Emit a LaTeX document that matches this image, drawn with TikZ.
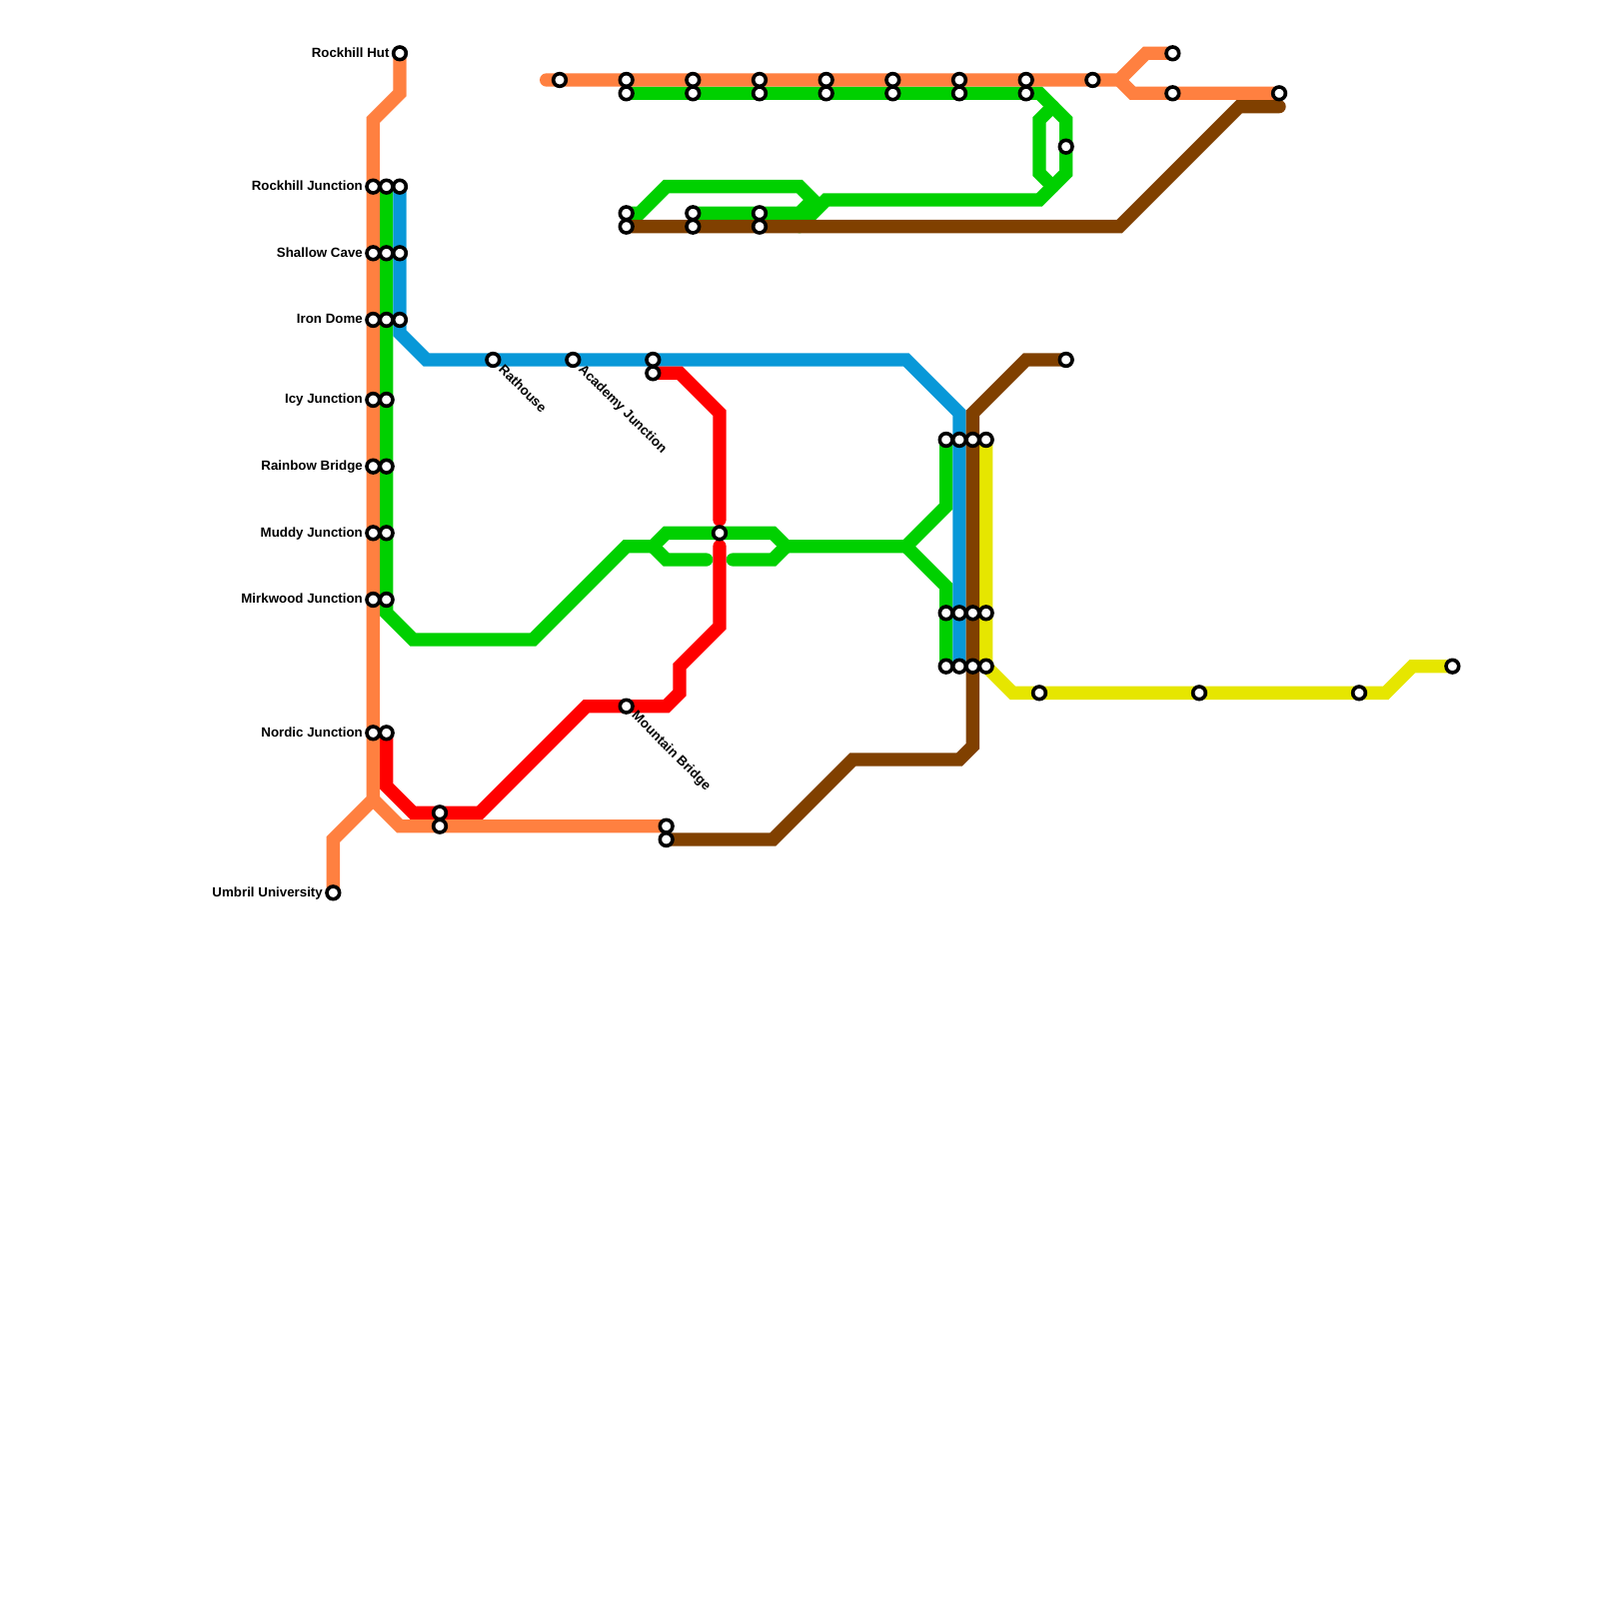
\documentclass[tikz,border=0pt]{standalone}
\usepackage{fontspec}
\setmainfont{Liberation Sans}
\usepackage{xcolor}
\usepackage{tikz}
\usetikzlibrary{calc,positioning,backgrounds}
\definecolor{lineorange}{HTML}{FF8040}
\definecolor{linegreen}{HTML}{00D000}
\definecolor{lineblue}{HTML}{0898D8}
\definecolor{linered}{HTML}{FF0000}
\definecolor{linebrown}{HTML}{804000}
\definecolor{lineyellow}{HTML}{E6E600}

\begin{document}
\begin{tikzpicture}[
      x=2mm, y=-2mm,
      metro/.style={line width=2mm, line cap=round, line join=miter},
      stn/.style={circle, draw=black, fill=white, line width=0.054cm, minimum size=0.19cm, inner sep=0pt},
      lbl/.style={font=\fontsize{5.69}{6.5}\selectfont\bfseries, inner sep=0pt, text=black, text height=4.4pt, text depth=1.2pt},
      slant/.style={lbl, rotate=-45, anchor=west},
    ]
    \useasboundingbox (0,0) rectangle (120,120);

    % stations
    \foreach \y in {14,19,24,30,35,40,45,55} {
      \node[stn] (s28-\y) at (28,\y) {};
      \node[stn] (s29-\y) at (29,\y) {};
    }
    \foreach \y in {14,19,24} \node[stn] (s30-\y) at (30,\y) {};
    \foreach \x in {71,72,73,74} {
      \node[stn] (s\x-33) at (\x,33) {};
      \node[stn] (s\x-46) at (\x,46) {};
      \node[stn] (s\x-50) at (\x,50) {};
    }
    \foreach \x in {47,52,57,62,67,72,77} {
      \node[stn] (s\x-6) at (\x,6) {};
      \node[stn] (s\x-7) at (\x,7) {};
    }
    \foreach \x in {47,52,57} {
      \node[stn] (s\x-16) at (\x,16) {};
      \node[stn] (s\x-17) at (\x,17) {};
    }
    \foreach \x/\y in {30/4, 25/67, 42/6, 82/6, 88/4, 88/7, 96/7, 80/11, 37/27, 43/27,
        49/27, 49/28, 80/27, 54/40, 47/53, 33/61, 33/62, 50/62, 50/63,
        78/52, 90/52, 102/52, 109/50}
      \node[stn] (s\x-\y) at (\x,\y) {};

    % names
    \node[lbl, left=0.8pt of s30-4] (lhut) {Rockhill Hut};
    \node[lbl, left=0.8pt of s28-14] (ljunc) {Rockhill Junction};
    \node[lbl, left=0.8pt of s28-19] (lcave) {Shallow Cave};
    \node[lbl, left=0.8pt of s28-24] (ldome) {Iron Dome};
    \node[lbl, left=0.8pt of s28-30] (licy) {Icy Junction};
    \node[lbl, left=0.8pt of s28-35] (lrain) {Rainbow Bridge};
    \node[lbl, left=0.8pt of s28-40] (lmud) {Muddy Junction};
    \node[lbl, left=0.8pt of s28-45] (lmirk) {Mirkwood Junction};
    \node[lbl, left=0.8pt of s28-55] (lnord) {Nordic Junction};
    \node[lbl, left=0.8pt of s25-67] (luni) {Umbril University};
    \node[slant] (lrat) at ([shift={(0.55,0.55)}]s37-27.center) {Rathouse};
    \node[slant] (lacad) at ([shift={(0.55,0.55)}]s43-27.center) {Academy Junction};
    \node[slant] (lmount) at ([shift={(0.55,0.55)}]s47-53.center) {Mountain Bridge};

    % lines go under the stations
    \begin{scope}[on background layer]
      \draw[metro, linegreen] (s29-14.center) -- (29,46) -- (31,48) -- (40,48) -- (47,41) -- (49,41)
        -- (50,40) -- (58,40) -- (59,41) -- (68,41) -- (71,38) -- (s71-33.center);
      \draw[metro, linegreen] (49,41) -- (50,42) -- (53,42);
      \draw[metro, linegreen] (55,42) -- (58,42) -- (59,41);
      \draw[metro, linegreen] (68,41) -- (71,44) -- (s71-50.center);
      \draw[metro, linegreen] (s47-7.center) -- (78,7) -- (80,9) -- (80,13) -- (78,15) -- (62,15) -- (60,17);
      \draw[metro, linegreen] (79,8) -- (78,9) -- (78,13) -- (79,14);
      \draw[metro, linegreen] (s47-16.center) -- (48,16) -- (50,14) -- (60,14) -- (61,15) -- (60,16) -- (s52-16.center);
      \draw[metro, lineblue] (s30-14.center) -- (30,25) -- (32,27) -- (68,27) -- (72,31) -- (s72-50.center);
      \draw[metro, linered] (s49-28.center) -- (51,28) -- (54,31) -- (54,39);
      \draw[metro, linered] (54,41) -- (54,47) -- (51,50) -- (51,52) -- (50,53) -- (44,53) -- (36,61)
        -- (31,61) -- (29,59) -- (s29-55.center);
      \draw[metro, lineyellow] (s74-33.center) -- (74,50) -- (76,52) -- (104,52) -- (106,50) -- (s109-50.center);
      \draw[metro, linebrown] (s47-17.center) -- (84,17) -- (93,8) -- (96,8);
      \draw[metro, linebrown] (s80-27.center) -- (77,27) -- (73,31) -- (73,56) -- (72,57) -- (64,57)
        -- (58,63) -- (s50-63.center);
      \draw[metro, lineorange] (s30-4.center) -- (30,7) -- (28,9) -- (28,60) -- (25,63) -- (s25-67.center);
      \draw[metro, lineorange] (28,60) -- (30,62) -- (s50-62.center);
      \draw[metro, lineorange] (41,6) -- (84,6) -- (86,4) -- (s88-4.center);
      \draw[metro, lineorange] (84,6) -- (85,7) -- (s96-7.center);
    \end{scope}
  \end{tikzpicture}
\end{document}
